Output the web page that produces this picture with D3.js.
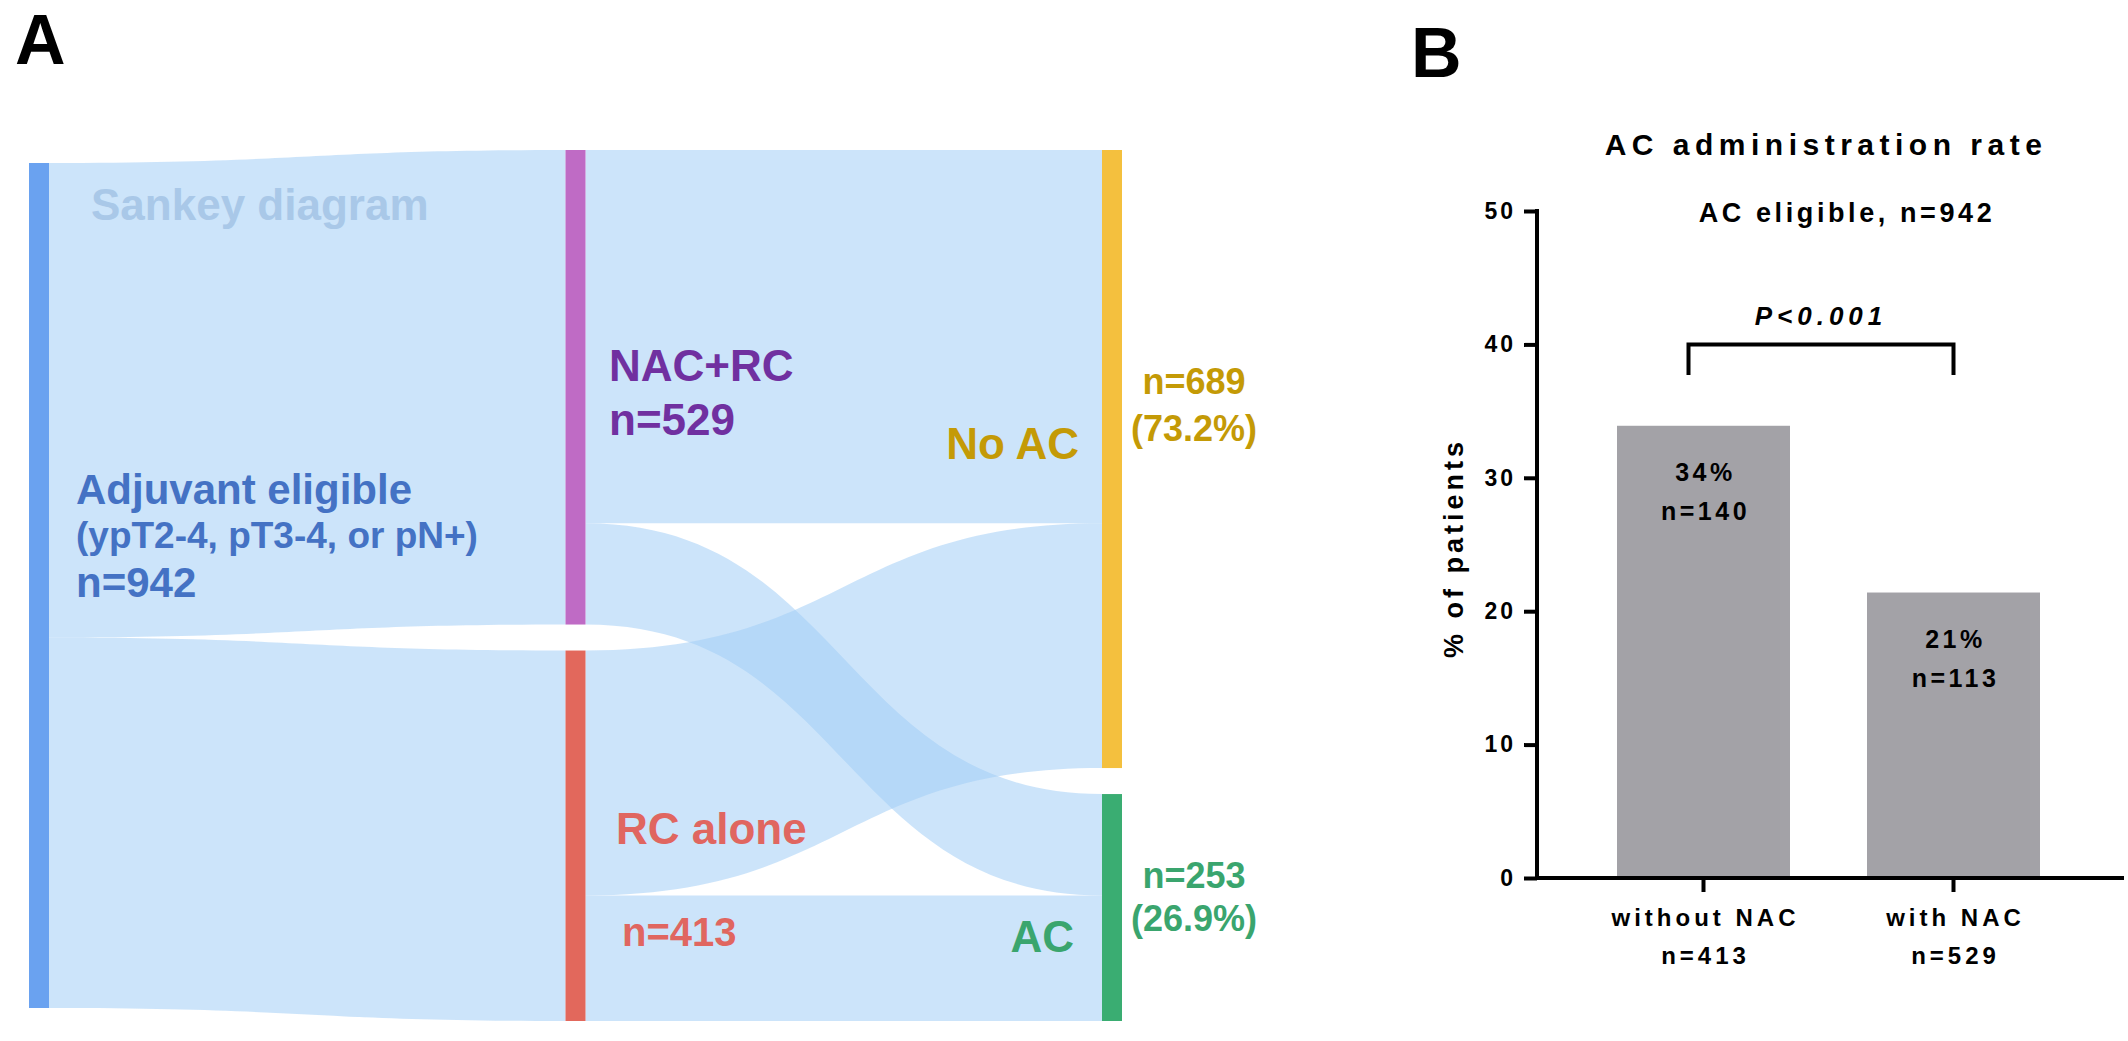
<!DOCTYPE html>
<html>
<head>
<meta charset="utf-8">
<script src="https://cdn.jsdelivr.net/npm/d3@7"></script>
<style>
  body { margin: 0; background: #fff; }
  text { font-family: "Liberation Sans", Arial, sans-serif; font-weight: bold; }
</style>
</head>
<body>
<div id="chart"></div>
<script>
// ---- panel A data (sankey) ----
const nodeNames = ['Adjuvant eligible', 'NAC+RC', 'RC alone', 'No AC', 'AC']
const nodeColumns = [0, 1, 1, 2, 2]
const nodeColors = ['#6aa2f0', '#bf6bc5', '#e2685c', '#f4c03e', '#3aad72']
const linkSources = [0, 0, 1, 1, 2, 2]
const linkTargets = [1, 2, 3, 4, 3, 4]
const linkValues = [529, 413, 416, 113, 273, 140]

// ---- panel B data (bars) ----
const barCategories = ['without NAC', 'with NAC']
const barGroupN = ['n=413', 'n=529']
const barValues = [33.9, 21.4]
const barPercentLabels = ['34%', '21%']
const barCountLabels = ['n=140', 'n=113']
const yTicks = [0, 10, 20, 30, 40, 50]

const width = 2128, height = 1041

const svg = d3.select('#chart')
    .append('svg')
    .attr('width', width)
    .attr('height', height)

svg.append('rect').attr('width', width).attr('height', height).attr('fill', '#fff')

// panel letters
svg.append('text').attr('x', 15).attr('y', 64).attr('font-size', 70).text('A')
svg.append('text').attr('x', 1411).attr('y', 77).attr('font-size', 70).text('B')

// =================== PANEL A : sankey ===================
const nodeWidth = 20
const nodeGap = 26
const sankeyTop = 150

const xCol = d3.scaleLinear().domain([0, 2]).range([29, 1102])
const ky = d3.scaleLinear().domain([0, 942]).range([0, 845])

// node values = max(in, out)
const nodes = nodeNames.map((name, i) => {
    const outV = d3.sum(linkValues.filter((v, j) => linkSources[j] === i))
    const inV = d3.sum(linkValues.filter((v, j) => linkTargets[j] === i))
    return { name, col: nodeColumns[i], color: nodeColors[i], value: Math.max(inV, outV), outY: 0, inY: 0 }
})

// stack nodes per column, centred on the tallest column
const colHeights = d3.range(3).map(c => {
    const ns = nodes.filter(n => n.col === c)
    return d3.sum(ns, n => ky(n.value)) + (ns.length - 1) * nodeGap
})
const maxCol = d3.max(colHeights)
d3.range(3).forEach(c => {
    let y = sankeyTop + (maxCol - colHeights[c]) / 2
    nodes.filter(n => n.col === c).forEach(n => {
        n.x0 = xCol(c)
        n.x1 = n.x0 + nodeWidth
        n.y0 = y
        n.y1 = y + ky(n.value)
        n.outY = n.y0
        n.inY = n.y0
        y = n.y1 + nodeGap
    })
})

const links = linkValues.map((v, i) => {
    const s = nodes[linkSources[i]], t = nodes[linkTargets[i]]
    const h = ky(v)
    const l = { x0: s.x1, x1: t.x0, sy0: s.outY, sy1: s.outY + h, ty0: t.inY, ty1: t.inY + h }
    s.outY += h
    t.inY += h
    return l
})

function linkArea(l) {
    const p = d3.path()
    const xm = (l.x0 + l.x1) / 2
    p.moveTo(l.x0, l.sy0)
    p.bezierCurveTo(xm, l.sy0, xm, l.ty0, l.x1, l.ty0)
    p.lineTo(l.x1, l.ty1)
    p.bezierCurveTo(xm, l.ty1, xm, l.sy1, l.x0, l.sy1)
    p.closePath()
    return p.toString()
}

const gSankey = svg.append('g')

gSankey.selectAll('path.link')
    .data(links)
    .enter()
    .append('path')
    .attr('class', 'link')
    .attr('d', linkArea)
    .attr('fill', 'rgb(162,206,246)')
    .attr('fill-opacity', 0.55)

gSankey.selectAll('rect.node')
    .data(nodes)
    .enter()
    .append('rect')
    .attr('class', 'node')
    .attr('x', d => d.x0)
    .attr('y', d => d.y0)
    .attr('width', nodeWidth)
    .attr('height', d => d.y1 - d.y0)
    .attr('fill', d => d.color)

// sankey labels
const sankeyLabels = [
    { t: 'Sankey diagram', x: 91, y: 220, s: 44, c: '#a9c8e8', a: 'start' },
    { t: 'Adjuvant eligible', x: 76, y: 504, s: 42, c: '#4472c4', a: 'start' },
    { t: '(ypT2-4, pT3-4, or pN+)', x: 76, y: 548, s: 37, c: '#4472c4', a: 'start' },
    { t: 'n=942', x: 76, y: 597, s: 42, c: '#4472c4', a: 'start' },
    { t: 'NAC+RC', x: 609, y: 381, s: 44, c: '#7030a0', a: 'start' },
    { t: 'n=529', x: 609, y: 435, s: 44, c: '#7030a0', a: 'start' },
    { t: 'RC alone', x: 616, y: 844, s: 44, c: '#e06660', a: 'start' },
    { t: 'n=413', x: 622, y: 946, s: 40, c: '#e06660', a: 'start' },
    { t: 'No AC', x: 1079, y: 459, s: 44, c: '#c49a06', a: 'end' },
    { t: 'AC', x: 1074, y: 952, s: 44, c: '#3aa56e', a: 'end' },
    { t: 'n=689', x: 1194, y: 394, s: 36, c: '#c49a06', a: 'middle' },
    { t: '(73.2%)', x: 1194, y: 441, s: 36, c: '#c49a06', a: 'middle' },
    { t: 'n=253', x: 1194, y: 888, s: 36, c: '#3aa56e', a: 'middle' },
    { t: '(26.9%)', x: 1194, y: 931, s: 36, c: '#3aa56e', a: 'middle' }
]

gSankey.selectAll('text.lab')
    .data(sankeyLabels)
    .enter()
    .append('text')
    .attr('class', 'lab')
    .attr('x', d => d.x)
    .attr('y', d => d.y)
    .attr('font-size', d => d.s)
    .attr('fill', d => d.c)
    .attr('text-anchor', d => d.a)
    .text(d => d.t)

// =================== PANEL B : bars ===================
const gBar = svg.append('g')

const y = d3.scaleLinear().domain([0, 50]).range([878, 211])
const x = d3.scaleBand()
    .domain(barCategories)
    .range([1578.5, 2078.5])
    .paddingInner(0.308)
    .paddingOuter(0.154)

gBar.append('text')
    .attr('x', 1826)
    .attr('y', 155)
    .attr('font-size', 30)
    .attr('letter-spacing', 5.5)
    .attr('text-anchor', 'middle')
    .text('AC administration rate')

gBar.append('text')
    .attr('x', 1847)
    .attr('y', 222)
    .attr('font-size', 27)
    .attr('letter-spacing', 3.6)
    .attr('text-anchor', 'middle')
    .text('AC eligible, n=942')

gBar.selectAll('rect.bar')
    .data(barValues)
    .enter()
    .append('rect')
    .attr('class', 'bar')
    .attr('x', (d, i) => x(barCategories[i]))
    .attr('y', d => y(d))
    .attr('width', x.bandwidth())
    .attr('height', d => y(0) - y(d))
    .attr('fill', '#a3a2a7')

// value labels inside bars
barValues.forEach((v, i) => {
    const cx = x(barCategories[i]) + x.bandwidth() / 2
    gBar.append('text')
        .attr('x', cx + 2)
        .attr('y', y(v) + 55)
        .attr('font-size', 25)
        .attr('letter-spacing', 3.5)
        .attr('text-anchor', 'middle')
        .text(barPercentLabels[i])
    gBar.append('text')
        .attr('x', cx + 2)
        .attr('y', y(v) + 94)
        .attr('font-size', 25)
        .attr('letter-spacing', 3.5)
        .attr('text-anchor', 'middle')
        .text(barCountLabels[i])
})

// y axis
const yAxis = gBar.append('g')
    .attr('transform', 'translate(1537,0)')
    .call(d3.axisLeft(y).tickValues(yTicks).tickSize(13).tickSizeOuter(0).tickPadding(8))
yAxis.select('.domain').attr('stroke-width', 4).attr('d', `M0,${y(50) - 2}V${y(0) + 2}`)
yAxis.selectAll('.tick line').attr('stroke-width', 4)
yAxis.selectAll('.tick text')
    .attr('font-size', 23)
    .attr('letter-spacing', 3)
    .attr('font-family', '"Liberation Sans", Arial, sans-serif')
    .attr('font-weight', 'bold')
    .attr('fill', '#000')

gBar.append('text')
    .attr('transform', 'translate(1463,548) rotate(-90)')
    .attr('font-size', 27)
    .attr('letter-spacing', 4)
    .attr('text-anchor', 'middle')
    .text('% of patients')

// x axis
const xAxis = gBar.append('g')
    .attr('transform', `translate(0,${y(0)})`)
    .call(d3.axisBottom(x).tickSize(14).tickSizeOuter(0).tickFormat(''))
xAxis.select('.domain').attr('stroke-width', 4).attr('d', 'M1535,0H2124')
xAxis.selectAll('.tick line').attr('stroke-width', 4)

barCategories.forEach((c, i) => {
    const cx = x(c) + x.bandwidth() / 2
    gBar.append('text')
        .attr('x', cx + 2)
        .attr('y', 926)
        .attr('font-size', 24)
        .attr('letter-spacing', 4)
        .attr('text-anchor', 'middle')
        .text(c)
    gBar.append('text')
        .attr('x', cx + 2)
        .attr('y', 964)
        .attr('font-size', 24)
        .attr('letter-spacing', 4)
        .attr('text-anchor', 'middle')
        .text(barGroupN[i])
})

// significance bracket
const bx0 = x(barCategories[0]) + x.bandwidth() / 2 - 15
const bx1 = x(barCategories[1]) + x.bandwidth() / 2
gBar.append('path')
    .attr('d', `M${bx0},${y(37.7)}V${y(40)}H${bx1}V${y(37.7)}`)
    .attr('fill', 'none')
    .attr('stroke', '#000')
    .attr('stroke-width', 4)

gBar.append('text')
    .attr('x', (bx0 + bx1) / 2)
    .attr('y', 325)
    .attr('font-size', 26)
    .attr('font-style', 'italic')
    .attr('letter-spacing', 5)
    .attr('text-anchor', 'middle')
    .text('P<0.001')
</script>
</body>
</html>
